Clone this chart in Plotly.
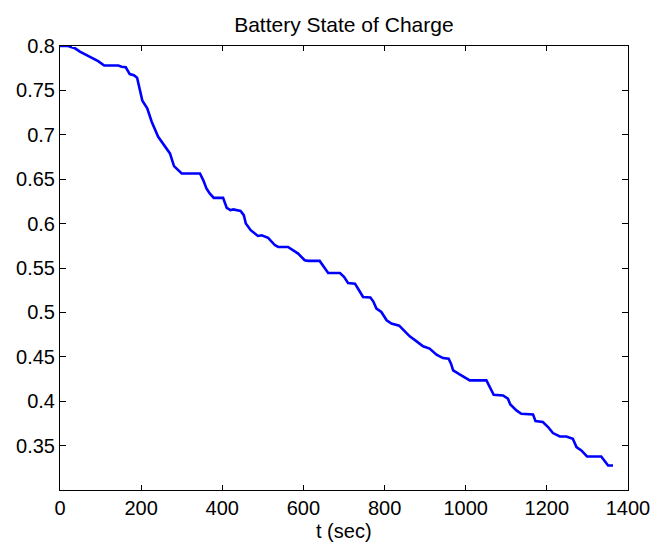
import plotly.graph_objects as go

# Battery state-of-charge trace over the drive cycle
t_sec = [0, 20, 29, 37, 49, 74, 94, 109, 144, 152, 162, 172, 182, 190, 197, 203,
         215, 226, 242, 263, 271, 281, 300, 345, 353, 361, 369, 379, 402, 411,
         420, 427, 445, 453, 458, 470, 488, 497, 513, 530, 538, 562, 579, 587,
         603, 612, 640, 648, 661, 690, 700, 710, 727, 737, 747, 765, 772, 780,
         792, 805, 817, 836, 854, 862, 879, 895, 911, 928, 944, 958, 964, 969,
         985, 1010, 1051, 1057, 1069, 1092, 1104, 1110, 1125, 1137, 1166, 1172,
         1190, 1203, 1215, 1232, 1248, 1264, 1273, 1285, 1299, 1334, 1342, 1351,
         1363]
soc = [0.800, 0.800, 0.7985, 0.7974, 0.7936, 0.788, 0.783, 0.778, 0.778, 0.7767,
       0.776, 0.7684, 0.767, 0.7643, 0.7504, 0.7383, 0.7298, 0.7147, 0.6977,
       0.6847, 0.679, 0.6647, 0.6564, 0.6564, 0.649, 0.6396, 0.634, 0.629,
       0.629, 0.6177, 0.6151, 0.616, 0.6143, 0.6095, 0.6001, 0.5926, 0.5861,
       0.5869, 0.5839, 0.5756, 0.5737, 0.5737, 0.5681, 0.5662, 0.5587, 0.558,
       0.558, 0.5531, 0.5444, 0.5444, 0.540, 0.5332, 0.5324, 0.5249, 0.5174,
       0.5167, 0.5125, 0.5043, 0.5005, 0.4911, 0.4874, 0.4851, 0.4761, 0.4731,
       0.4674, 0.4618, 0.4592, 0.4524, 0.4486, 0.4479, 0.4420, 0.4347, 0.4302,
       0.4234, 0.4234, 0.4178, 0.4073, 0.4065, 0.4028, 0.3964, 0.3896, 0.3859,
       0.3851, 0.3776, 0.3765, 0.3709, 0.3641, 0.3603, 0.3603, 0.3577, 0.3483,
       0.3446, 0.3378, 0.3378, 0.3333, 0.3276, 0.3276]

x_ticks = [0, 200, 400, 600, 800, 1000, 1200, 1400]
y_ticks = [0.35, 0.4, 0.45, 0.5, 0.55, 0.6, 0.65, 0.7, 0.75, 0.8]
y_tick_text = ["0.35", "0.4", "0.45", "0.5", "0.55", "0.6", "0.65", "0.7", "0.75", "0.8"]

FONT = "Liberation Sans, Arial, sans-serif"
PLOT_H = 546 - 46 - 56  # height of the axes box in px

fig = go.Figure()
fig.add_trace(go.Scatter(
    x=t_sec, y=soc, mode="lines",
    line=dict(color="#0000FF", width=2.6),
    showlegend=False,
))

axis_common = dict(
    showline=True, linecolor="black", linewidth=1, mirror="ticks",
    ticks="inside", tickcolor="black", tickwidth=1,
    showgrid=False, zeroline=False, automargin=False,
    tickfont=dict(family=FONT, size=20, color="black"),
)

fig.update_layout(
    width=655, height=546,
    margin=dict(l=60, r=27, t=46, b=56),
    paper_bgcolor="white", plot_bgcolor="white",
    title=dict(text="Battery State of Charge", x=0.525, xanchor="center",
               y=1 - 25 / 546, yanchor="middle",
               font=dict(family=FONT, size=21, color="black")),
    xaxis=dict(range=[0, 1400], tickvals=x_ticks, ticklen=5, **axis_common),
    yaxis=dict(range=[0.3, 0.8], tickvals=y_ticks, ticktext=y_tick_text,
               ticklen=6, **axis_common),
    annotations=[dict(
        text="t (sec)", xref="paper", yref="paper", x=0.5, y=-41 / PLOT_H,
        xanchor="center", yanchor="middle", showarrow=False,
        font=dict(family=FONT, size=20, color="black"),
    )],
)

fig.write_html("out.html")
